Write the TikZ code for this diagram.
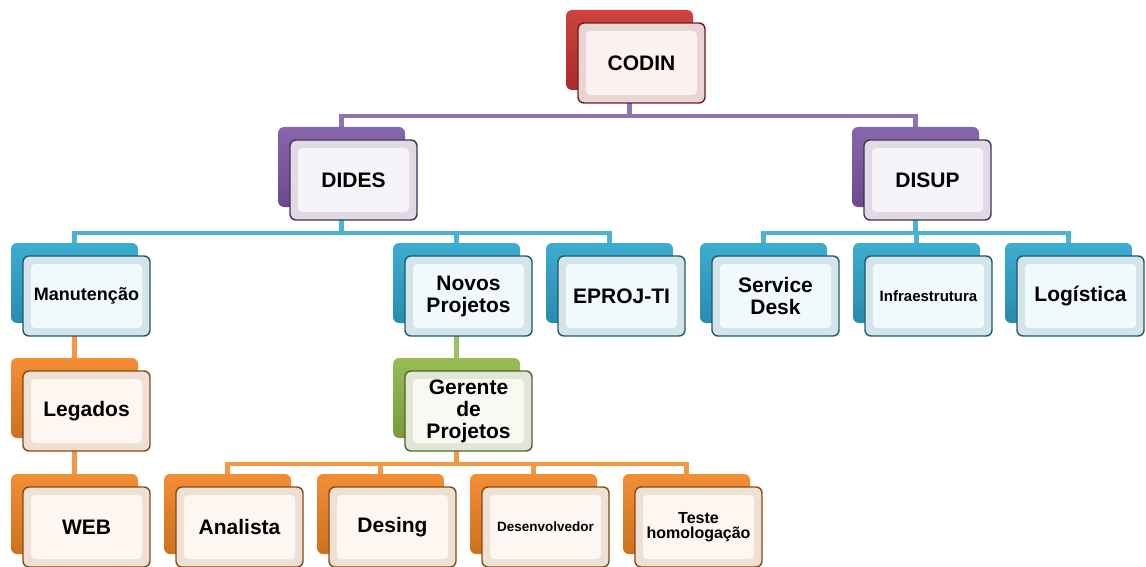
\documentclass[tikz,border=0pt]{standalone}
\usepackage{fontspec}
\setmainfont{Liberation Sans}
\usetikzlibrary{backgrounds}

\definecolor{orgred}{RGB}{200,50,48}
\definecolor{orgpurple}{RGB}{125,88,165}
\definecolor{orgblue}{RGB}{45,165,205}
\definecolor{orgorange}{RGB}{242,132,35}
\definecolor{orggreen}{RGB}{142,182,70}

\tikzset{
  backbox/.style={rectangle, rounded corners=6pt, inner sep=0pt,
    minimum width=127pt, minimum height=80pt,
    top color=#1!92!white, bottom color=#1!85!black},
  frontbox/.style={rectangle, rounded corners=6pt, inner sep=0pt,
    minimum width=127pt, minimum height=80pt, align=center,
    draw=#1!55!black, line width=1.4pt, fill=#1!14!white!94!black,
    path picture={\fill[#1!7!white, rounded corners=4pt]
      ([xshift=8pt,yshift=-8pt]path picture bounding box.north west) rectangle
      ([xshift=-8pt,yshift=8pt]path picture bounding box.south east);}},
  conn/.style={draw=#1!85!white, line width=4.5pt}
}

\begin{document}
\begin{tikzpicture}[x = {(1pt,0pt)},
  y = {(0pt,-1pt)}]

  \useasboundingbox (0,0) rectangle (1146,567);

  % boxes: name / left / top / colour / font size / leading / text
  \foreach \n/\x/\y/\col/\fs/\fl/\txt in {
    codin/566/10/orgred/21/22/CODIN,
    dides/278/127/orgpurple/21/22/DIDES,
    disup/852/127/orgpurple/21/22/DISUP,
    manut/11/243/orgblue/18/20/Manutenção,
    novos/393/243/orgblue/21/22/Novos\\Projetos,
    eproj/546/243/orgblue/21/22/EPROJ-TI,
    serv/700/243/orgblue/21/22/Service\\Desk,
    infra/853/243/orgblue/15/17/Infraestrutura,
    logis/1005/243/orgblue/21/22/Logística,
    legad/11/358/orgorange/21/22/Legados,
    geren/393/358/orggreen/21/22/Gerente\\de\\Projetos,
    web/11/474/orgorange/21/22/WEB,
    anali/164/474/orgorange/21/22/Analista,
    desin/317/474/orgorange/21/22/Desing,
    desen/470/474/orgorange/13.5/15/Desenvolvedor,
    teste/623/474/orgorange/16/15/Teste\\homologação}
  {
  \node[backbox=\col] (\n-b) at (\x+63.5,\y+40) {};
  \node[frontbox=\col, font=\fontsize{\fs}{\fl}\selectfont\bfseries]
    (\n) at (\x+75.5,\y+53) {\txt};
  }

  % hubs below the parents
  \foreach \p in {codin,dides,disup,manut,legad,novos,geren}
  \path (\p-b.center) ++(0,66) coordinate (\p-hub);

  % connectors
  \begin{scope}[on background layer]
  \foreach \p/\c/\col in {codin/dides/orgpurple, codin/disup/orgpurple,
    dides/manut/orgblue, dides/novos/orgblue, dides/eproj/orgblue,
    disup/serv/orgblue, disup/infra/orgblue, disup/logis/orgblue,
    manut/legad/orgorange, legad/web/orgorange, novos/geren/orggreen,
    geren/anali/orgorange, geren/desin/orgorange,
    geren/desen/orgorange, geren/teste/orgorange}
  \draw[conn=\col] (\p-b.center) -- (\p-hub) -| (\c-b.center);
  \end{scope}

\end{tikzpicture}
\end{document}
